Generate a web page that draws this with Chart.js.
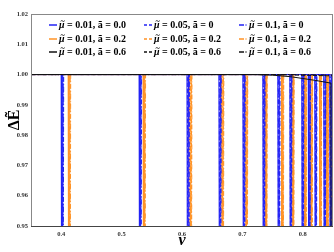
<!DOCTYPE html>
<html>
<head>
<meta charset="utf-8">
<script src="https://cdn.jsdelivr.net/npm/chart.js@4.4.0/dist/chart.umd.min.js"></script>
<style>
  html, body { margin: 0; padding: 0; background: #fff; }
</style>
</head>
<body>
<canvas id="chart" width="334" height="252"></canvas>
<script>
// Datos
const xTicks = [0.4, 0.5, 0.6, 0.7, 0.8];
const yTicks = [0.95, 0.96, 0.97, 0.98, 0.99, 1.00, 1.01, 1.02];

const seriesLabels = [
  'μ̃ = 0.01, ā = 0.0', 'μ̃ = 0.05, ā = 0', 'μ̃ = 0.1, ā = 0',
  'μ̃ = 0.01, ā = 0.2', 'μ̃ = 0.05, ā = 0.2', 'μ̃ = 0.1, ā = 0.2',
  'μ̃ = 0.01, ā = 0.6', 'μ̃ = 0.05, ā = 0.6', 'μ̃ = 0.1, ā = 0.6'
];

// posiciones v de las caídas (ΔE < 0.95)
const dropsBlue001 = [0.4012, 0.5302, 0.6095, 0.6624, 0.7021, 0.7351, 0.7599, 0.7798, 0.7996, 0.8103, 0.8211, 0.8360, 0.8459];
const dropsBlue005 = [0.4020, 0.5310, 0.6102, 0.6630, 0.7027, 0.7357, 0.7605, 0.7803, 0.8001, 0.8108, 0.8216, 0.8364, 0.8463];
const dropsBlue01  = [0.4028, 0.5318, 0.6110, 0.6637, 0.7033, 0.7362, 0.7610, 0.7808, 0.8006, 0.8113, 0.8221, 0.8368, 0.8467];
const dropsOrange001 = [0.4128, 0.5368, 0.6140, 0.6668, 0.7064, 0.7388, 0.7658, 0.7834, 0.8040, 0.8140, 0.8288, 0.8404, 0.8488];
const dropsOrange005 = [0.4136, 0.5376, 0.6146, 0.6674, 0.7070, 0.7393, 0.7665, 0.7839, 0.8045, 0.8145, 0.8293, 0.8409, 0.8492];
const dropsOrange01  = [0.4144, 0.5384, 0.6152, 0.6680, 0.7076, 0.7398, 0.7672, 0.7844, 0.8050, 0.8150, 0.8298, 0.8414, 0.8496];
const dropLow = 0.9;

// curvas ā = 0.6 (bajan un poco cerca del final)
const blackV = [0.35, 0.72, 0.75, 0.78, 0.80, 0.82, 0.84, 0.8465, 0.8470, 0.8490, 0.8495, 0.85];
const blackE = [1.0, 1.0, 0.9998, 0.9993, 0.9987, 0.9981, 0.9974, 0.9972, 0.9, 0.9, 0.9971, 0.9970];
const blackE005 = [1.0, 1.0, 1.0, 0.9999, 0.9998, 0.9997, 0.9996, 0.9996, 0.9996, 0.9995, 0.9995, 0.9995];
const blackE01 = [1.0, 1.0, 1.0, 1.0, 0.9999, 0.9999, 0.9998, 0.9998, 0.9998, 0.9998, 0.9998, 0.9998];

const vMin = 0.35, vMax = 0.85;

function flatWithDrops(drops) {
  const pts = [{ x: vMin, y: 1 }];
  drops.forEach(c => {
    pts.push({ x: c - 0.0013, y: 1 });
    pts.push({ x: c - 0.0004, y: dropLow });
    pts.push({ x: c + 0.0004, y: dropLow });
    pts.push({ x: c + 0.0013, y: 1 });
  });
  pts.push({ x: vMax, y: 1 });
  return pts;
}

function curve(vs, es) {
  return vs.map((v, i) => ({ x: v, y: es[i] }));
}

const BLUE = '#2323f5', ORANGE = '#ff9326', BLACK = '#111';
const SOLID = [], DASH = [4, 2], DASHDOT = [5, 2, 1, 2];

const datasets = [
  { data: flatWithDrops(dropsBlue001), borderColor: BLUE, borderDash: SOLID },
  { data: flatWithDrops(dropsBlue005), borderColor: BLUE, borderDash: DASH },
  { data: flatWithDrops(dropsBlue01), borderColor: BLUE, borderDash: DASHDOT },
  { data: flatWithDrops(dropsOrange001), borderColor: ORANGE, borderDash: SOLID },
  { data: flatWithDrops(dropsOrange005), borderColor: ORANGE, borderDash: DASH },
  { data: flatWithDrops(dropsOrange01), borderColor: ORANGE, borderDash: DASHDOT },
  { data: curve(blackV, blackE), borderColor: BLACK, borderDash: SOLID, order: 0 },
  { data: curve(blackV, blackE005), borderColor: BLACK, borderDash: DASH, order: 0 },
  { data: curve(blackV, blackE01), borderColor: BLACK, borderDash: DASHDOT, order: 0 }
].map((d, i) => Object.assign({
  label: seriesLabels[i],
  borderWidth: 1,
  pointRadius: 0,
  tension: 0,
  fill: false,
  order: 1
}, d));

// Leyenda en 3 columnas (la tilde se dibuja a mano sobre la μ)
const legendCols = [49, 144, 239];
const legendRows = [25, 39, 52];
const gridLegend = {
  id: 'gridLegend',
  afterDraw(chart) {
    const ctx = chart.ctx;
    ctx.save();
    ctx.textBaseline = 'middle';
    ctx.fillStyle = '#000';
    chart.data.datasets.forEach((ds, i) => {
      const x = legendCols[i % 3];
      const y = legendRows[Math.floor(i / 3)];
      ctx.strokeStyle = ds.borderColor;
      ctx.lineWidth = 1.5;
      if (ds.borderDash === DASH) ctx.setLineDash([3, 2]);
      else if (ds.borderDash === DASHDOT) ctx.setLineDash([5, 1.5, 1, 1.5]);
      else ctx.setLineDash([]);
      ctx.beginPath();
      ctx.moveTo(x, y);
      ctx.lineTo(x + 8, y);
      ctx.stroke();
      ctx.setLineDash([]);
      const text = ds.label.replace('\u0303', '');
      const tx = x + 10;
      ctx.font = 'italic bold 10px "Liberation Serif", serif';
      ctx.fillText('μ', tx, y + 0.5);
      const mw = ctx.measureText('μ').width;
      ctx.font = 'bold 8px "Liberation Serif", serif';
      ctx.textAlign = 'center';
      ctx.fillText('~', tx + mw / 2 + 0.8, y - 3.5);
      ctx.textAlign = 'left';
      ctx.font = 'bold 10px "Liberation Serif", serif';
      ctx.fillText(text.slice(1), tx + mw, y + 0.5);
    });
    ctx.restore();
  }
};

// Marco del gráfico
const frame = {
  id: 'frame',
  afterDraw(chart) {
    const a = chart.chartArea;
    const ctx = chart.ctx;
    ctx.save();
    ctx.strokeStyle = '#888';
    ctx.lineWidth = 1;
    ctx.strokeRect(a.left + 0.5, a.top + 0.5, a.right - a.left - 1, a.bottom - a.top);
    ctx.strokeStyle = '#444';
    ctx.beginPath();
    ctx.moveTo(a.left, a.bottom + 0.5);
    ctx.lineTo(a.right, a.bottom + 0.5);
    ctx.stroke();
    ctx.restore();
  }
};

const tickFont = { family: '"Liberation Serif", serif', size: 6.5, weight: 'bold' };

new Chart(document.getElementById('chart'), {
  type: 'line',
  data: { datasets },
  options: {
    responsive: false,
    animation: false,
    layout: { padding: { top: 14, right: 1, left: 0, bottom: 0 } },
    plugins: { legend: { display: false }, tooltip: { enabled: false } },
    scales: {
      x: {
        type: 'linear',
        min: vMin,
        max: vMax,
        afterBuildTicks: s => { s.ticks = xTicks.map(v => ({ value: v })); },
        afterFit: s => { s.height = 26; },
        grid: { display: false, drawTicks: false },
        border: { display: false },
        ticks: { font: tickFont, color: '#333', padding: 4, maxRotation: 0, callback: v => v.toFixed(1) },
        title: { display: true, text: 'v', font: { family: '"Liberation Serif", serif', size: 16, weight: 'bold', style: 'italic' }, color: '#000', padding: { top: 0, bottom: 2 } }
      },
      y: {
        min: 0.95,
        max: 1.02,
        afterBuildTicks: s => { s.ticks = yTicks.map(v => ({ value: v })); },
        afterFit: s => { s.width = 31; },
        grid: { display: false, drawTicks: false },
        border: { display: false },
        ticks: { font: tickFont, color: '#333', padding: 3, callback: v => v.toFixed(2) },
        title: { display: true, text: 'ΔẼ', font: { family: '"Liberation Serif", serif', size: 16, weight: 'bold' }, color: '#000', padding: { top: 5, bottom: 0 } }
      }
    }
  },
  plugins: [gridLegend, frame]
});
</script>
</body>
</html>
